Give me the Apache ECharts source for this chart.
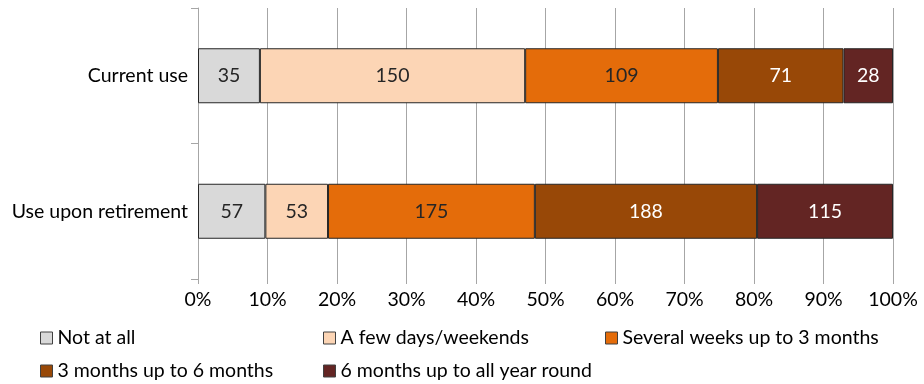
<!DOCTYPE html>
<html>
<head>
<meta charset="utf-8">
<script src="https://cdn.jsdelivr.net/npm/echarts@6/dist/echarts.min.js"></script>
<style>
  html, body { margin: 0; padding: 0; background: #fff; }
  #chart { width: 924px; height: 384px; }
</style>
</head>
<body>
<div id="chart"></div>
<script>
// Rows of the chart, bottom to top as the category axis draws them
const categories = ['Use upon retirement', 'Current use'];

// Respondent counts per answer, in the same order as categories
const notAtAll = [57, 35];
const fewDays = [53, 150];
const severalWeeks = [175, 109];
const threeToSix = [188, 71];
const sixToYear = [115, 28];

const seriesNames = [
  'Not at all',
  'A few days/weekends',
  'Several weeks up to 3 months',
  '3 months up to 6 months',
  '6 months up to all year round'
];
const percentTicks = ['0%', '10%', '20%', '30%', '40%', '50%', '60%', '70%', '80%', '90%', '100%'];

const counts = [notAtAll, fewDays, severalWeeks, threeToSix, sixToYear];
const colors = ['#D9D9D9', '#FCD5B5', '#E46C0A', '#984807', '#632523'];
const labelColors = ['#262626', '#262626', '#262626', '#ffffff', '#ffffff'];

// Row totals so every bar is stacked to 100%
const totals = categories.map((_, i) => counts.reduce((s, arr) => s + arr[i], 0));

const FONT = 'Lato';
const FS = 19.5;

const series = counts.map((arr, k) => ({
  name: seriesNames[k],
  type: 'bar',
  stack: 'share',
  barWidth: 55,
  data: arr.map((v, i) => ({ value: v / totals[i] * 100, count: v })),
  itemStyle: { color: colors[k], borderColor: '#262626', borderWidth: 1 },
  label: {
    show: true,
    position: 'inside',
    color: labelColors[k],
    fontFamily: FONT,
    fontSize: FS,
    formatter: p => String(p.data.count)
  },
  emphasis: { disabled: true }
}));

// Legend positions: three columns on the first line, two on the second
const legendSpots = [
  { left: 40, top: 328 },
  { left: 323, top: 328 },
  { left: 605, top: 328 },
  { left: 40, top: 361 },
  { left: 323, top: 361 }
];
const legends = seriesNames.map((name, k) => ({
  data: [name],
  left: legendSpots[k].left,
  top: legendSpots[k].top,
  icon: 'rect',
  itemWidth: 12,
  itemHeight: 12,
  itemGap: 4,
  padding: 0,
  selectedMode: false,
  itemStyle: { borderColor: '#404040', borderWidth: 1 },
  textStyle: { fontFamily: FONT, fontSize: FS, lineHeight: 20, color: '#000', padding: [0, 0, 0, 0] }
}));

const chart = echarts.init(document.getElementById('chart'));
chart.setOption({
  animation: false,
  color: colors,
  grid: { left: 198, right: 31, top: 8, bottom: 105, containLabel: false },
  legend: legends,
  xAxis: {
    type: 'value',
    min: 0,
    max: 100,
    interval: 10,
    axisLine: { show: false },
    axisTick: { show: true, length: 5, lineStyle: { color: '#A6A6A6' } },
    splitLine: { show: true, lineStyle: { color: '#A6A6A6', width: 1 } },
    axisLabel: {
      fontFamily: FONT,
      fontSize: FS,
      color: '#000',
      margin: 11,
      formatter: v => percentTicks[Math.round(v / 10)]
    }
  },
  yAxis: {
    type: 'category',
    data: categories,
    axisLine: { show: true, lineStyle: { color: '#A6A6A6' } },
    axisTick: { show: true, length: 7, lineStyle: { color: '#A6A6A6' } },
    axisLabel: { fontFamily: FONT, fontSize: FS, color: '#000', margin: 10 }
  },
  series: series
});
</script>
</body>
</html>
